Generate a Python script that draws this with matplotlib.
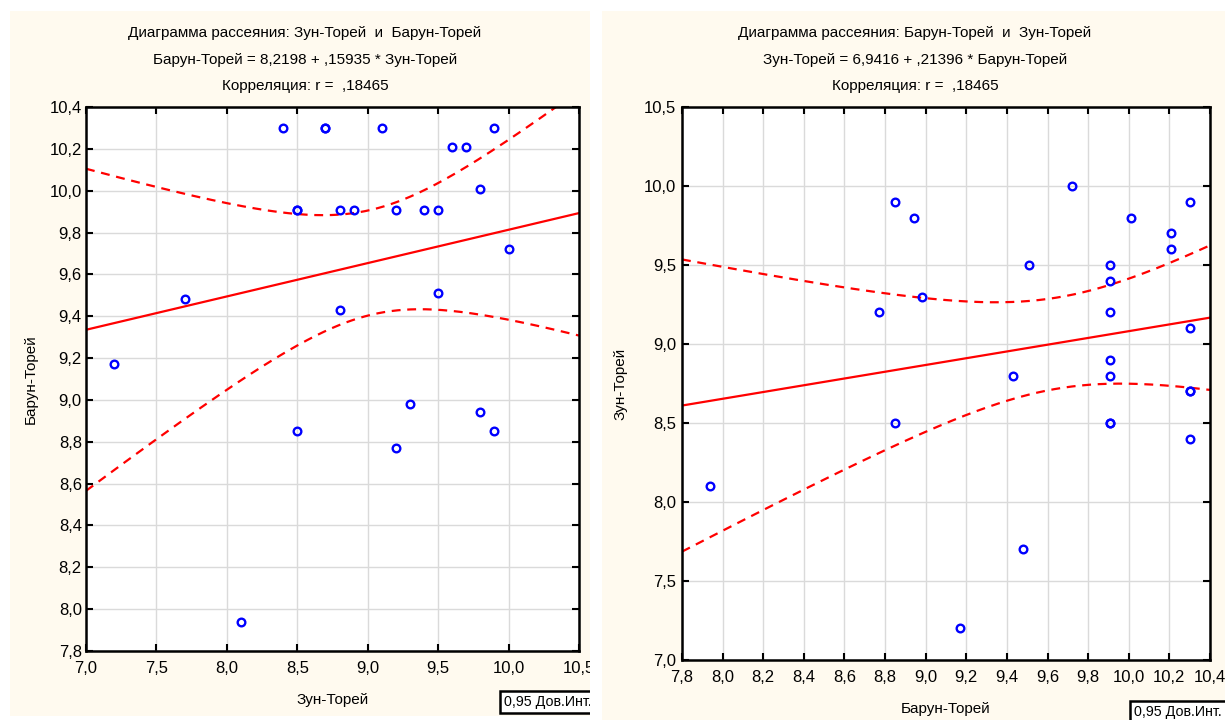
import numpy as np
import matplotlib
matplotlib.use("Agg")
import matplotlib.pyplot as plt
from matplotlib.patches import Rectangle
from matplotlib.ticker import FixedLocator, FuncFormatter
from matplotlib.transforms import Bbox, TransformedBbox

plt.rcParams['font.family'] = ['Liberation Sans', 'DejaVu Sans']

# Paired observations (same sites, two stations)
zun = [7.2, 7.7, 8.1, 8.4, 8.5, 8.5, 8.5, 8.7, 8.7, 8.8, 8.8, 8.9, 9.1,
       9.2, 9.2, 9.3, 9.4, 9.5, 9.5, 9.6, 9.7, 9.8, 9.8, 9.9, 9.9, 10.0]
barun = [9.17, 9.48, 7.94, 10.30, 9.91, 9.91, 8.85, 10.30, 10.30, 9.91, 9.43,
         9.91, 10.30, 9.91, 8.77, 8.98, 9.91, 9.91, 9.51, 10.21, 10.21, 10.01,
         8.94, 10.30, 8.85, 9.72]

zun_name = "Зун-Торей"
barun_name = "Барун-Торей"

# Regression coefficients (intercept, slope) and correlation
fit_barun_on_zun = (8.2198, 0.15935)
fit_zun_on_barun = (6.9416, 0.21396)
r_value = 0.18465
conf_label = "0,95 Дов.Инт."
t_975_df24 = 2.0639

left_xticks = [7.0, 7.5, 8.0, 8.5, 9.0, 9.5, 10.0, 10.5]
left_yticks = [7.8, 8.0, 8.2, 8.4, 8.6, 8.8, 9.0, 9.2, 9.4, 9.6, 9.8, 10.0, 10.2, 10.4]
right_xticks = [7.8, 8.0, 8.2, 8.4, 8.6, 8.8, 9.0, 9.2, 9.4, 9.6, 9.8, 10.0, 10.2, 10.4]
right_yticks = [7.0, 7.5, 8.0, 8.5, 9.0, 9.5, 10.0, 10.5]

W, H = 1225, 720
CREAM = '#FFFAEF'
RED = '#FF0000'
BLUE = '#0000FF'
FS = 11
TICK_FS = 12
BOX_FS = 10.3


def stat_num(v, nd):
    s = f"{v:.{nd}f}".replace('.', ',')
    if s.startswith('0,'):
        s = s[1:]
    return s


def px_rect(x0, y0, x1, y1):
    """Figure-fraction rectangle from pixel box (y measured from top)."""
    return [x0 / W, 1 - y1 / H, (x1 - x0) / W, (y1 - y0) / H]


fig = plt.figure(figsize=(W / 100, H / 100), dpi=100, facecolor='white')

# Panel backgrounds
panels = [(10, 11, 590, 716), (602, 11, 1225, 720)]
for (x0, y0, x1, y1) in panels:
    fig.add_artist(Rectangle((x0 / W, 1 - y1 / H), (x1 - x0) / W, (y1 - y0) / H,
                             transform=fig.transFigure, facecolor=CREAM,
                             edgecolor='none', zorder=-10))


def draw_panel(rect, panel, x, y, fit, xname, yname, xticks, yticks, xlim, ylim,
               title_cx, xlabel_y, ylabel_x, box_xy, ypad):
    ax = fig.add_axes(px_rect(*rect))
    ax.set_facecolor('white')
    ax.set_xlim(*xlim)
    ax.set_ylim(*ylim)
    ax.xaxis.set_major_locator(FixedLocator(xticks))
    ax.yaxis.set_major_locator(FixedLocator(yticks))
    fmt = FuncFormatter(lambda v, p: f"{v:.1f}".replace('.', ','))
    ax.xaxis.set_major_formatter(fmt)
    ax.yaxis.set_major_formatter(fmt)
    ax.tick_params(direction='in', top=True, right=True, length=5, width=1.5,
                   labelsize=TICK_FS, colors='black')
    ax.tick_params(axis='x', pad=7)
    ax.tick_params(axis='y', pad=ypad)
    for sp in ax.spines.values():
        sp.set_linewidth(1.8)
        sp.set_color('black')
    ax.grid(True, color='#DADADA', lw=1)
    ax.set_axisbelow(True)

    a, b = fit
    xa = np.asarray(x, float)
    ya = np.asarray(y, float)
    n = len(xa)
    xm = xa.mean()
    sxx = ((xa - xm) ** 2).sum()
    s = np.sqrt(((ya - (a + b * xa)) ** 2).sum() / (n - 2))
    grid = np.linspace(xlim[0], xlim[1], 300)
    line = a + b * grid
    half = t_975_df24 * s * np.sqrt(1.0 / n + (grid - xm) ** 2 / sxx)

    ax.plot(grid, line, color=RED, lw=1.6, zorder=2)
    ax.plot(grid, line + half, color=RED, lw=1.6, ls=(0, (4, 3)), zorder=2)
    ax.plot(grid, line - half, color=RED, lw=1.6, ls=(0, (4, 3)), zorder=2)
    ax.plot(xa, ya, 'o', mfc='none', mec=BLUE, ms=5.5, mew=1.7, zorder=3,
            clip_on=False)

    titles = [
        f"Диаграмма рассеяния: {xname}  и  {yname}",
        f"{yname} = {stat_num(a, 4)} + {stat_num(b, 5)} * {xname}",
        f"Корреляция: r =  {stat_num(r_value, 5)}",
    ]
    for ty, t in zip([33, 60, 86], titles):
        fig.text(title_cx / W, 1 - ty / H, t, ha='center', va='center', fontsize=FS)

    axcx = (rect[0] + rect[2]) / 2
    axcy = (rect[1] + rect[3]) / 2
    fig.text(axcx / W, 1 - xlabel_y / H, xname, ha='center', va='center', fontsize=FS)
    fig.text(ylabel_x / W, 1 - axcy / H, yname, ha='center', va='center',
             rotation=90, fontsize=FS)

    bx, by = box_xy
    box = fig.text(bx / W, 1 - by / H, conf_label,
                   ha='left', va='center', fontsize=BOX_FS,
                   bbox=dict(boxstyle='square,pad=0.3', facecolor='white',
                             edgecolor='black', linewidth=1.8))
    px0, py0, px1, py1 = panel
    clip = TransformedBbox(Bbox.from_extents(px0 / W, 1 - py1 / H, px1 / W, 1 - py0 / H),
                           fig.transFigure)
    box.set_clip_box(clip)
    box.set_clip_on(True)
    return ax


draw_panel((86, 107, 579, 651), panels[0], zun, barun, fit_barun_on_zun,
           zun_name, barun_name, left_xticks, left_yticks, (7.0, 10.5), (7.8, 10.4),
           title_cx=305, xlabel_y=700, ylabel_x=31, box_xy=(504, 702), ypad=3)

draw_panel((682, 107, 1210, 660), panels[1], barun, zun, fit_zun_on_barun,
           barun_name, zun_name, right_xticks, right_yticks, (7.8, 10.4), (7.0, 10.5),
           title_cx=915, xlabel_y=709, ylabel_x=620, box_xy=(1134, 712), ypad=4)

# Gap between the two panels
fig.add_artist(Rectangle((590 / W, 0), 12 / W, 1, transform=fig.transFigure,
                         facecolor='white', edgecolor='none', zorder=20))

fig.savefig('out.png', dpi=100, facecolor='white')
